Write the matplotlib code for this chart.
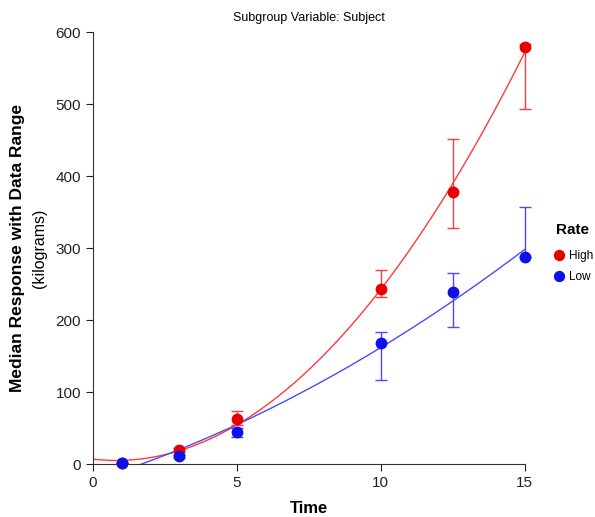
import numpy as np
import matplotlib.pyplot as plt

plt.rcParams['font.family'] = ['Liberation Sans', 'DejaVu Sans']

# median response and data range by time, per rate group
time = [1, 3, 5, 10, 12.5, 15]

high_median = [1, 19, 62, 243, 378, 579]
high_min = [1, 17, 54, 232, 328, 493]
high_max = [2, 22, 74, 270, 451, 584]

low_median = [1, 11, 44, 168, 239, 288]
low_min = [0, 9, 37, 116, 191, 288]
low_max = [2, 13, 50, 183, 265, 357]

groups = [
    ('High', high_median, high_min, high_max, '#E80000', '#FF3A3A'),
    ('Low', low_median, low_min, low_max, '#1010E8', '#4A4AFF'),
]


def main():
    fig = plt.figure(figsize=(5.95, 5.17), dpi=100)
    ax = fig.add_axes([0.156, 0.1025, 0.726, 0.8355])

    x = np.array(time, dtype=float)
    xs = np.linspace(0, 15, 200)
    for name, med, lo, hi, c, lc in groups:
        med = np.array(med, dtype=float)
        err = [med - np.array(lo), np.array(hi) - med]
        # quadratic trend through the medians
        coef = np.polyfit(x, med, 2)
        ax.plot(xs, np.polyval(coef, xs), color=lc, lw=1.0, zorder=2)
        eb = ax.errorbar(x, med, yerr=err, fmt='none', ecolor=lc, elinewidth=1.0,
                         capsize=4, capthick=1.0, zorder=3)
        for art in eb.lines[1] + eb.lines[2]:
            art.set_clip_on(False)
        ax.plot(x, med, 'o', color=c, mec=c, ms=7.5, label=name, zorder=4,
                clip_on=False)

    ax.set_xlim(0, 15)
    ax.set_ylim(0, 600)
    ax.set_xticks([0, 5, 10, 15])
    ax.set_yticks(range(0, 601, 100))
    for s in ['top', 'right']:
        ax.spines[s].set_visible(False)
    ax.spines['left'].set_color('#333333')
    ax.spines['bottom'].set_color('#333333')
    ax.tick_params(direction='out', length=5, labelsize=11, colors='#222222')

    ax.set_title('Subgroup Variable: Subject', fontsize=9, pad=8)
    ax.set_xlabel('Time', fontsize=12, fontweight='bold', labelpad=8)
    fig.text(0.030, 0.52, 'Median Response with Data Range', rotation=90,
             fontsize=12.5, fontweight='bold', ha='center', va='center')
    fig.text(0.066, 0.52, '(kilograms)', rotation=90,
             fontsize=11.5, ha='center', va='center')

    # legend title placed by hand, entries below it
    fig.text(0.963, 0.555, 'Rate', fontsize=11, fontweight='bold',
             ha='center', va='center')
    ax.legend(loc='center left', bbox_to_anchor=(0.918, 0.4845),
              bbox_transform=fig.transFigure, borderaxespad=0,
              frameon=False, fontsize=8.5, handletextpad=0.15,
              handlelength=1.4, labelspacing=0.75, markerscale=0.95)

    fig.savefig('out.png', dpi=100)


if __name__ == '__main__':
    main()
